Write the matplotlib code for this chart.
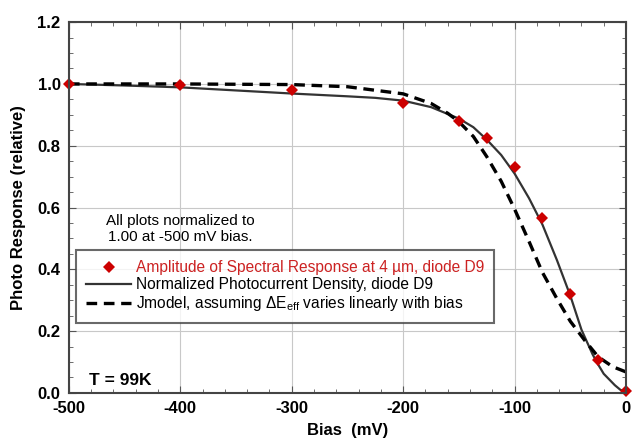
import numpy as np
import matplotlib
matplotlib.use("Agg")
import matplotlib.pyplot as plt
from matplotlib.ticker import MultipleLocator, FormatStrFormatter

plt.rcParams['font.family'] = ['Liberation Sans', 'DejaVu Sans']
plt.rcParams['mathtext.fontset'] = 'custom'
plt.rcParams['mathtext.rm'] = 'Liberation Sans'
plt.rcParams['mathtext.it'] = 'Liberation Sans:italic'
plt.rcParams['axes.unicode_minus'] = False

# measured spectral response amplitude (diamonds)
bias_pts = [-500, -400, -300, -200, -150, -125, -100, -75, -50, -25, 0]
resp_pts = [1.0, 0.995, 0.98, 0.937, 0.88, 0.825, 0.73, 0.565, 0.32, 0.105, 0.005]

# normalized photocurrent density (solid)
bias_j = [-500, -450, -400, -350, -300, -250, -225, -200, -175, -150, -137, -125,
          -112, -100, -87, -75, -62, -50, -40, -30, -25, -20, -10, -5, 0]
resp_j = [1.0, 0.995, 0.989, 0.979, 0.969, 0.96, 0.955, 0.946, 0.925, 0.888, 0.86, 0.82,
          0.77, 0.71, 0.63, 0.545, 0.43, 0.315, 0.205, 0.125, 0.092, 0.062, 0.025, 0.01, 0.003]

# Jmodel (dashed)
bias_m = [-500, -400, -300, -250, -200, -175, -160, -150, -137, -125, -112, -100, -87,
          -75, -62, -50, -37, -25, -12, 0]
resp_m = [1.0, 1.0, 0.998, 0.991, 0.968, 0.937, 0.905, 0.878, 0.83, 0.765, 0.685, 0.595, 0.49,
          0.39, 0.305, 0.232, 0.17, 0.117, 0.085, 0.068]

fig = plt.figure(figsize=(6.32, 4.43), dpi=100)
ax = fig.add_axes([0.109, 0.113, 0.8815, 0.837])

ax.plot(bias_j, resp_j, color='#333333', lw=1.6,
        label='Normalized Photocurrent Density, diode D9')
ax.plot(bias_m, resp_m, color='black', lw=2.4, dashes=(3.2, 2.0),
        label=r'Jmodel, assuming $\Delta$E$_{\rm eff}$ varies linearly with bias')
ax.plot(bias_pts, resp_pts, 'D', color='#cc0000', ms=6.5, mew=0, clip_on=False,
        label='Amplitude of Spectral Response at 4 \u00b5m, diode D9')

ax.set_xlim(-500, 0)
ax.set_ylim(0, 1.2)
ax.xaxis.set_major_locator(MultipleLocator(100))
ax.xaxis.set_minor_locator(MultipleLocator(20))
ax.yaxis.set_major_locator(MultipleLocator(0.2))
ax.yaxis.set_minor_locator(MultipleLocator(0.05))
ax.yaxis.set_major_formatter(FormatStrFormatter('%.1f'))
ax.grid(True, which='major', color='#c8c8c8', lw=0.8)
ax.tick_params(which='both', direction='in', top=True, right=True, color='#555555')
ax.tick_params(which='major', length=5, labelsize=12, pad=6)
ax.tick_params(which='minor', length=3)
for lab in ax.get_xticklabels() + ax.get_yticklabels():
    lab.set_fontweight('bold')
for s in ax.spines.values():
    s.set_color('#444444')
    s.set_linewidth(1.5)

ax.set_xlabel('Bias  (mV)', fontsize=12, fontweight='bold', labelpad=5)
ax.set_ylabel('Photo Response (relative)', fontsize=12, fontweight='bold', labelpad=8)

ax.text(-400, 0.531, 'All plots normalized to\n1.00 at -500 mV bias.', ha='center',
        va='center', multialignment='center', fontsize=11, linespacing=1.2)
ax.text(-482, 0.04, 'T = 99K', fontsize=12.5, fontweight='bold', ha='left', va='center')

handles, labels = ax.get_legend_handles_labels()
order = [2, 0, 1]
leg = ax.legend([handles[i] for i in order], [labels[i] for i in order],
                loc='upper left', bbox_to_anchor=(0.0126, 0.385), borderaxespad=0,
                fontsize=11.2, frameon=True, fancybox=False, handlelength=2.9,
                handletextpad=0.3, labelspacing=0.12, borderpad=0.65)
leg.get_frame().set_edgecolor('#444444')
leg.get_frame().set_linewidth(1.5)
leg.get_texts()[0].set_color('#cc2222')

fig.savefig('out.png', dpi=100)
